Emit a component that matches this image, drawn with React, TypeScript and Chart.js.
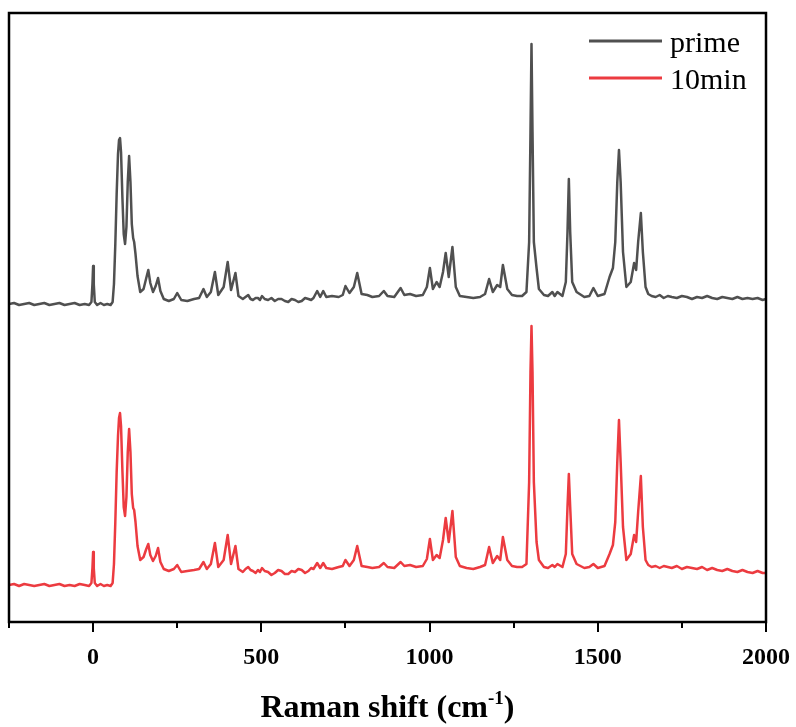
import React, { useEffect, useRef } from "react";
import { Chart, registerables } from "chart.js";

Chart.register(...registerables);

// Raman shift (cm-1) sampled points, shared by both spectra
const shiftX = [
  -250, -235, -220, -205, -190, -175, -160, -145, -130, -115, -100, -85, -70, -55, -40, -25, -12, -5, -2, 0,
  2, 5, 12, 22, 32, 42, 52, 58, 62, 66, 70, 74, 77, 80, 83, 87, 91, 95, 99, 103,
  107, 111, 115, 119, 122, 126, 132, 140, 150, 158, 164, 170, 178, 186, 193, 200, 210, 225, 240, 250,
  262, 280, 300, 315, 328, 338, 350, 362, 372, 388, 400, 410, 423, 432,
  445, 453, 461, 468, 475, 483, 490, 496, 502, 510, 520, 530, 540, 550, 560, 570, 580, 590, 600, 610,
  620, 630, 640, 648, 655,
  666, 675, 684, 693, 710, 730, 742, 750, 762, 775, 785, 798, 815,
  830, 850, 864, 875, 895, 914, 925, 942, 960, 980, 992, 1001, 1010, 1021, 1030, 1040, 1048, 1057, 1068, 1078,
  1090, 1110, 1130, 1150, 1165, 1177, 1188, 1201, 1210, 1218, 1231, 1245, 1260, 1275, 1288, 1296, 1300, 1303, 1306, 1310,
  1318, 1325, 1340, 1352, 1365, 1372, 1380, 1395, 1405, 1410, 1414, 1418, 1424, 1437, 1460, 1475, 1487, 1500, 1520, 1535,
  1545, 1552, 1558, 1563, 1568, 1575, 1585, 1598, 1608, 1614, 1620, 1628, 1634,
  1642, 1650, 1660, 1672, 1684, 1696, 1708, 1720, 1735, 1750,
  1765, 1780, 1795, 1810, 1825, 1840, 1855, 1870, 1885, 1900,
  1915, 1930, 1945, 1960, 1975, 1990, 2000,
];

// "prime" spectrum (offset intensity, a.u.)
const primeIntensity = [
  318, 319, 317, 318, 319, 317, 318, 319, 317, 318, 319, 317, 318, 319, 317, 318, 317, 320, 338, 356,
  338, 320, 317, 319, 317, 318, 317, 320, 338, 378, 428, 468, 482, 484, 470, 425, 388, 378, 395, 440,
  466, 440, 398, 384, 380, 368, 346, 330, 333, 344, 352, 339, 330, 336, 344, 331, 323, 321, 323, 329,
  322, 321, 323, 324, 333, 325, 330, 350, 327, 335, 360, 332, 349, 326,
  323, 325, 327, 323, 322, 324, 324, 322, 326, 323, 322, 324, 321, 323, 323, 321, 320, 323, 322, 320,
  321, 324, 323, 322, 324,
  331, 325, 331, 325, 326, 325, 327, 336, 329, 335, 349, 328, 327,
  325, 326, 331, 326, 325, 334, 327, 328, 326, 327, 335, 354, 333, 340, 335, 350, 369, 345, 375, 335,
  326, 325, 324, 325, 328, 343, 330, 337, 335, 357, 333, 327, 326, 326, 330, 380, 490, 578, 490, 380,
  354, 333, 327, 326, 330, 326, 330, 326, 340, 390, 443, 390, 340, 330, 325, 326, 334, 326, 328, 345,
  354, 380, 440, 472, 440, 370, 335, 340, 359, 352, 380, 409, 370,
  335, 328, 326, 325, 327, 324, 326, 325, 324, 326,
  325, 323, 325, 324, 326, 324, 323, 325, 324, 323,
  325, 323, 324, 323, 324, 322, 323,
];

// "10min" spectrum (intensity, a.u.)
const tenMinIntensity = [
  37, 38, 36, 38, 37, 36, 37, 38, 36, 37, 38, 36, 37, 36, 38, 37, 36, 39, 54, 70,
  54, 39, 36, 38, 36, 37, 36, 39, 58, 100, 150, 186, 204, 209, 196, 152, 115, 106, 125, 170,
  193, 170, 128, 114, 112, 100, 76, 62, 65, 73, 78, 67, 61, 66, 74, 60, 53, 51, 53, 57,
  50, 51, 52, 53, 60, 53, 58, 79, 55, 62, 87, 58, 76, 53,
  50, 53, 55, 52, 51, 49, 52, 50, 54, 51, 50, 47, 49, 52, 51, 48, 48, 51, 50, 53,
  52, 49, 51, 54, 53,
  59, 54, 59, 54, 53, 55, 56, 62, 56, 62, 76, 56, 55,
  54, 55, 59, 55, 54, 60, 56, 57, 55, 56, 63, 83, 62, 67, 64, 82, 104, 80, 111, 65,
  56, 54, 53, 55, 57, 75, 59, 66, 62, 85, 62, 56, 55, 55, 58, 140, 250, 296, 250, 140,
  80, 62, 55, 54, 57, 55, 58, 55, 68, 115, 148, 115, 68, 58, 54, 55, 58, 54, 56, 68,
  77, 100, 160, 202, 160, 95, 62, 68, 87, 80, 110, 146, 95,
  62, 57, 55, 56, 54, 56, 55, 54, 56, 53,
  55, 54, 53, 55, 52, 54, 52, 51, 53, 51,
  50, 52, 50, 49, 51, 49, 49,
];

// x-axis ticks
const majorTicks = [0, 500, 1000, 1500, 2000];
const minorTicks = [-250, 250, 750, 1250, 1750];

const seriesNames = ["prime", "10min"];
const seriesColors = ["#505050", "#ec3b40"];

export default function App() {
  const ref = useRef<HTMLCanvasElement | null>(null);

  useEffect(() => {
    const canvas = ref.current;
    if (!canvas) return;

    const framePlugin = {
      id: "frameAndDecor",
      afterDraw(chart: any) {
        const { ctx, chartArea } = chart;
        const xs = chart.scales.x;
        const { left, right, top, bottom } = chartArea;
        ctx.save();
        // frame
        ctx.strokeStyle = "#000";
        ctx.lineWidth = 2.5;
        ctx.strokeRect(left, top, right - left, bottom - top);
        // ticks
        ctx.lineWidth = 2;
        const drawTick = (v: number, len: number) => {
          const px = Math.round(xs.getPixelForValue(v));
          ctx.beginPath();
          ctx.moveTo(px, bottom);
          ctx.lineTo(px, bottom + len);
          ctx.stroke();
        };
        majorTicks.forEach((v) => drawTick(v, 10));
        minorTicks.forEach((v) => drawTick(v, 6));

        // axis title with superscript
        const mainFont = 'bold 32px "Liberation Serif", "Times New Roman", serif';
        const supFont = 'bold 19px "Liberation Serif", "Times New Roman", serif';
        const partA = "Raman shift (cm";
        const partSup = "-1";
        const partB = ")";
        ctx.fillStyle = "#000";
        ctx.textBaseline = "alphabetic";
        ctx.font = mainFont;
        const wA = ctx.measureText(partA).width;
        const wB = ctx.measureText(partB).width;
        ctx.font = supFont;
        const wS = ctx.measureText(partSup).width;
        const total = wA + wS + wB;
        const x0 = (left + right) / 2 - total / 2;
        const baseY = 717;
        ctx.textAlign = "left";
        ctx.font = mainFont;
        ctx.fillText(partA, x0, baseY);
        ctx.font = supFont;
        ctx.fillText(partSup, x0 + wA, baseY - 13);
        ctx.font = mainFont;
        ctx.fillText(partB, x0 + wA + wS, baseY);

        // legend
        const legendY = [41, 78];
        ctx.font = '30px "Liberation Serif", "Times New Roman", serif';
        chart.data.datasets.forEach((ds: any, i: number) => {
          ctx.strokeStyle = ds.borderColor;
          ctx.lineWidth = 3;
          ctx.beginPath();
          ctx.moveTo(589, legendY[i]);
          ctx.lineTo(662, legendY[i]);
          ctx.stroke();
          ctx.fillStyle = "#000";
          ctx.fillText(ds.label, 670, legendY[i] + 11);
        });
        ctx.restore();
      },
    };

    const makeData = (ys: number[]) => shiftX.map((x, i) => ({ x, y: ys[i] }));

    const chart = new Chart(canvas, {
      type: "line",
      data: {
        datasets: [
          {
            label: seriesNames[0],
            data: makeData(primeIntensity),
            borderColor: seriesColors[0],
            borderWidth: 2.5,
            pointRadius: 0,
            tension: 0,
            fill: false,
          },
          {
            label: seriesNames[1],
            data: makeData(tenMinIntensity),
            borderColor: seriesColors[1],
            borderWidth: 2.5,
            pointRadius: 0,
            tension: 0,
            fill: false,
          },
        ],
      },
      options: {
        responsive: false,
        animation: false,
        layout: { padding: { left: 9, right: 30, top: 13, bottom: 0 } },
        plugins: {
          legend: { display: false },
          tooltip: { enabled: false },
        },
        elements: { line: { borderJoinStyle: "round", borderCapStyle: "round" } },
        scales: {
          x: {
            type: "linear",
            min: -250,
            max: 2000,
            afterBuildTicks: (scale: any) => {
              scale.ticks = majorTicks.map((v) => ({ value: v }));
            },
            afterFit: (scale: any) => {
              scale.height = 105;
              scale.paddingLeft = 0;
              scale.paddingRight = 0;
            },
            grid: { display: false, drawTicks: false },
            border: { display: false },
            ticks: {
              padding: 21,
              color: "#000",
              maxRotation: 0,
              autoSkip: false,
              font: { family: '"Liberation Serif", "Times New Roman", serif', size: 24, weight: "bold" },
              callback: (v: any) => String(v),
            },
          },
          y: {
            display: false,
            min: 0,
            max: 609,
          },
        },
      },
      plugins: [framePlugin],
    });

    return () => chart.destroy();
  }, []);

  return (
    <div style={{ position: "fixed", left: 0, top: 0, width: 796, height: 727, background: "#fff" }}>
      <canvas ref={ref} width={796} height={727} style={{ display: "block" }} />
    </div>
  );
}
